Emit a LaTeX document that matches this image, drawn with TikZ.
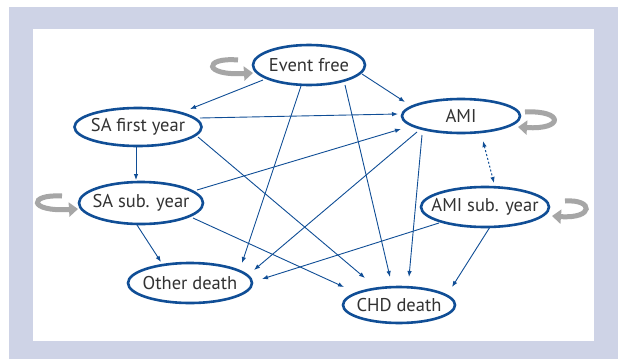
\documentclass[tikz,border=0pt]{standalone}
\usepackage{fontspec}
\setmainfont{PT Sans}
\usetikzlibrary{arrows.meta,calc,shapes.geometric}
\definecolor{lav}{RGB}{206,211,230}
\definecolor{nblue}{RGB}{16,78,150}
\definecolor{loopgray}{RGB}{166,166,166}
\definecolor{txt}{RGB}{50,50,50}
\tikzset{
  state/.style={ellipse,draw=nblue,line width=2.6pt,fill=white,inner sep=0pt,
    text=txt,font=\fontsize{18.5}{20}\selectfont},
  edge/.style={draw=nblue,line width=0.9pt,-{Latex[length=6pt,width=4.5pt]}},
  dotedge/.style={draw=nblue,line width=1pt,dash pattern=on 2pt off 2pt,
    {Latex[length=6pt,width=4.5pt]}-{Latex[length=6pt,width=4.5pt]}},
  loopar/.style={draw=loopgray,line width=5pt,-{Triangle[length=9pt,width=14pt]}}
}
\newcommand{\lbl}[1]{\makebox[0pt]{#1}}
\begin{document}
\begin{tikzpicture}[x=1pt,y=-1pt]
\useasboundingbox (0,0) rectangle (618,359);
\fill[lav] (9,7) rectangle (618,359);
\fill[white] (33,29) rectangle (594,341);
% nodes
\node[state,minimum width=112pt,minimum height=40pt] (ef) at (309,65) {\lbl{Event free}};
\node[state,minimum width=118pt,minimum height=34pt] (ami) at (461,116) {\lbl{AMI}};
\node[state,minimum width=127pt,minimum height=38pt] (sa1) at (138,127) {\lbl{SA first year}};
\node[state,minimum width=124pt,minimum height=42pt] (sas) at (141,203) {\lbl{SA sub. year}};
\node[state,minimum width=128pt,minimum height=40pt] (amis) at (485,207) {\lbl{AMI sub. year}};
\node[state,minimum width=124pt,minimum height=40pt] (od) at (190,283) {\lbl{Other death}};
\node[state,minimum width=112pt,minimum height=36pt] (chd) at (399,305) {\lbl{CHD death}};
% self loops
\draw[loopar] ($(ef)+(-71,-5)$) .. controls ($(ef)+(-106,-8)$) and ($(ef)+(-106,11)$) .. ($(ef)+(-56,8)$);
\draw[loopar] ($(ami)+(64,-4)$) .. controls ($(ami)+(103,-6)$) and ($(ami)+(103,14)$) .. ($(ami)+(57,11)$);
\draw[loopar] ($(sas)+(-79,-7)$) .. controls ($(sas)+(-113,-9)$) and ($(sas)+(-113,9)$) .. ($(sas)+(-63,6)$);
\draw[loopar] ($(amis)+(80,-6)$) .. controls ($(amis)+(109,-8)$) and ($(amis)+(109,12)$) .. ($(amis)+(67,9)$);
% edges
\draw[edge] ($(ef)+(-46,15)$) -- ($(sa1)+(52,-18)$);
\draw[edge] ($(ef)+(53,9)$) -- ($(ami)+(-56,-14)$);
\draw[edge] ($(ef)+(-8,21)$) -- ($(od)+(52,-20)$);
\draw[edge] ($(ef)+(36,20)$) -- ($(chd)+(-9,-28)$);
\draw[edge] ($(sa1)+(62,-9)$) -- ($(ami)+(-63,-2)$);
\draw[edge] ($(sa1)+(-2,19)$) -- ($(sas)+(-5,-23)$);
\draw[edge] ($(sa1)+(60,10)$) -- ($(chd)+(-34,-27)$);
\draw[edge] ($(ami)+(-44,16)$) -- ($(od)+(64,-13)$);
\draw[edge] ($(ami)+(-39,19)$) -- ($(chd)+(10,-28)$);
\draw[edge] ($(sas)+(56,-13)$) -- ($(ami)+(-60,13)$);
\draw[edge] ($(sas)+(-4,22)$) -- ($(od)+(-29,-21)$);
\draw[edge] ($(sas)+(52,15)$) -- ($(chd)+(-55,-18)$);
\draw[edge] ($(amis)+(-46,16)$) -- ($(od)+(72,-4)$);
\draw[edge] ($(amis)+(5,20)$) -- ($(chd)+(53,-18)$);
\draw[dotedge] ($(ami)+(22,25)$) -- ($(amis)+(9,-24)$);
\end{tikzpicture}
\end{document}
